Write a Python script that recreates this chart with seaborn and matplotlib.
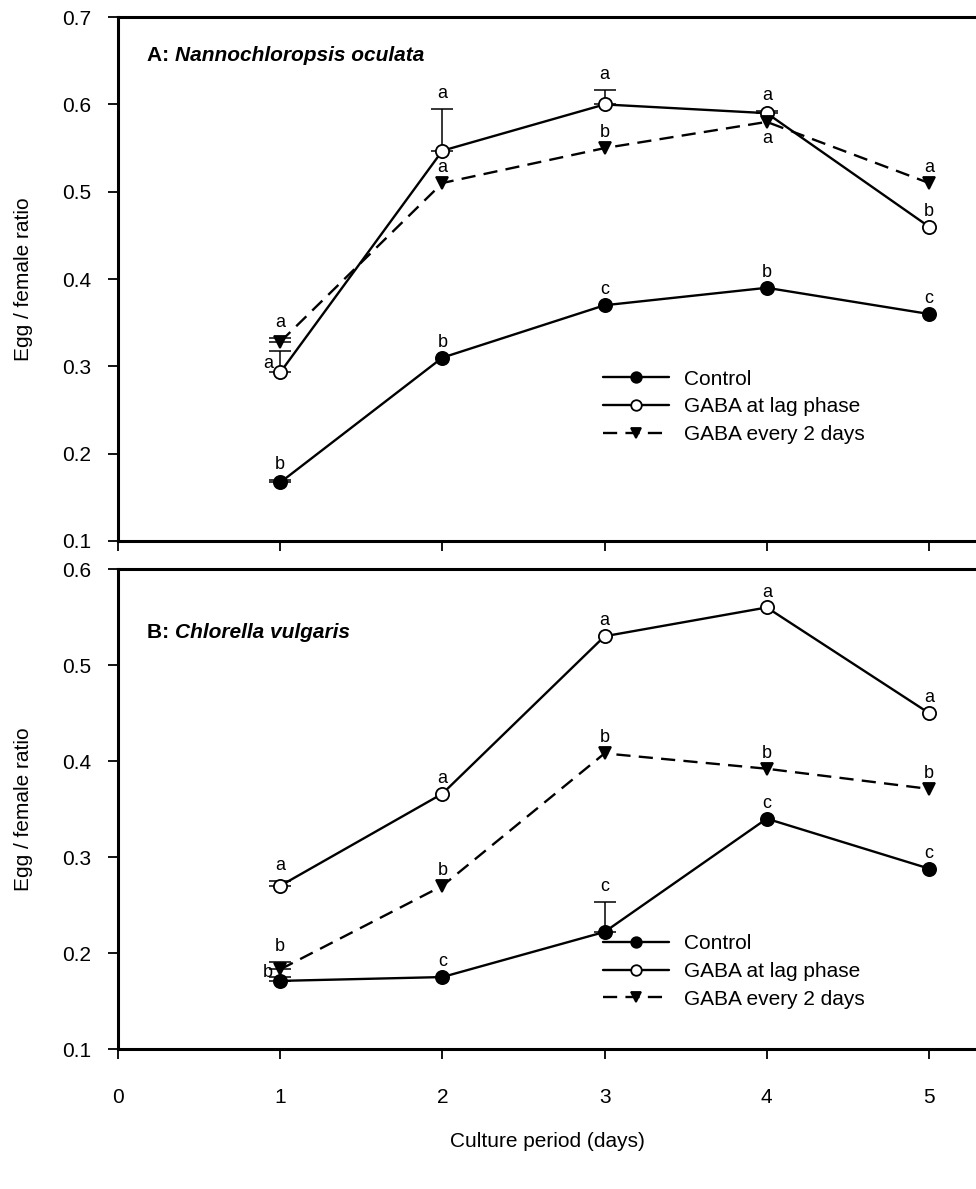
import matplotlib
matplotlib.use("Agg")
import matplotlib.pyplot as plt
import seaborn as sns
import pandas as pd
import numpy as np

# ---------------- data ----------------
days = [1, 2, 3, 4, 5]
series_names = ["Control", "GABA at lag phase", "GABA every 2 days"]

# Panel A: Nannochloropsis oculata
a_control = [0.167, 0.310, 0.370, 0.390, 0.360]
a_lag = [0.293, 0.547, 0.600, 0.590, 0.460]
a_every2 = [0.328, 0.510, 0.550, 0.580, 0.510]
a_control_err = [0.003, 0.0, 0.0, 0.0, 0.0]
a_lag_err = [0.025, 0.048, 0.017, 0.003, 0.0]
a_every2_err = [0.004, 0.0, 0.0, 0.0, 0.0]
a_control_letters = ["b", "b", "c", "b", "c"]
a_lag_letters = ["a", "a", "a", "a", "b"]
a_every2_letters = ["a", "a", "b", "a", "a"]

# Panel B: Chlorella vulgaris
b_control = [0.171, 0.175, 0.222, 0.340, 0.288]
b_lag = [0.270, 0.366, 0.530, 0.560, 0.450]
b_every2 = [0.183, 0.270, 0.408, 0.392, 0.371]
b_control_err = [0.004, 0.0, 0.031, 0.0, 0.0]
b_lag_err = [0.005, 0.0, 0.0, 0.0, 0.0]
b_every2_err = [0.008, 0.0, 0.0, 0.0, 0.0]
b_control_letters = ["b", "c", "c", "c", "c"]
b_lag_letters = ["a", "a", "a", "a", "a"]
b_every2_letters = ["b", "b", "b", "b", "b"]

x_ticks = [0, 1, 2, 3, 4, 5]
a_yticks = [0.1, 0.2, 0.3, 0.4, 0.5, 0.6, 0.7]
b_yticks = [0.1, 0.2, 0.3, 0.4, 0.5, 0.6]
xlabel = "Culture period (days)"
ylabel = "Egg / female ratio"

# ---------------- style ----------------
sns.set_theme(style="ticks")
plt.rcParams["font.family"] = ["Liberation Sans", "DejaVu Sans"]
plt.rcParams["text.color"] = "black"
plt.rcParams["axes.labelcolor"] = "black"
plt.rcParams["xtick.color"] = "black"
plt.rcParams["ytick.color"] = "black"
plt.rcParams["xtick.labelcolor"] = "black"
plt.rcParams["ytick.labelcolor"] = "black"

FS = 15
styles = {
    "Control": dict(marker="o", mfc="black", ls="-", ms=9.5),
    "GABA at lag phase": dict(marker="o", mfc="white", ls="-", ms=9.5),
    "GABA every 2 days": dict(marker="v", mfc="black", ls=(0, (6, 3.5)), ms=9),
}

fig = plt.figure(figsize=(9.76, 11.89), dpi=100)
axA = fig.add_axes([0.1209, 0.545, 0.8791, 0.4406])
axB = fig.add_axes([0.1209, 0.1177, 0.8791, 0.4037])


def draw(ax, vals, errs, letters, positions, yticks, ylim, show_xlabels):
    rows = []
    for name, v in zip(series_names, vals):
        for d, y in zip(days, v):
            rows.append(dict(day=d, ratio=y, treatment=name))
    df = pd.DataFrame(rows)
    for name, err, lets, pos in zip(series_names, errs, letters, positions):
        sub = df[df.treatment == name]
        st = styles[name]
        sns.lineplot(data=sub, x="day", y="ratio", ax=ax, color="black",
                     marker=st["marker"], markersize=st["ms"],
                     markerfacecolor=st["mfc"], markeredgecolor="black",
                     markeredgewidth=1.3, linewidth=1.7, linestyle=st["ls"],
                     label=name, zorder=3)
        yv = sub["ratio"].to_numpy()
        e = np.asarray(err)
        lower = np.zeros_like(e)
        mask = e > 0
        if mask.any():
            ax.errorbar(np.asarray(days)[mask], yv[mask], yerr=[lower[mask], e[mask]],
                        fmt="none", ecolor="black", elinewidth=1.1, capsize=8,
                        capthick=1.1, zorder=2)
        for d, y, ee, l, p in zip(days, yv, e, lets, pos):
            if p == "above":
                ax.annotate(l, (d, y + ee), xytext=(0, 5), textcoords="offset points",
                            ha="center", va="bottom", fontsize=13, color="black")
            elif p == "below":
                ax.annotate(l, (d, y), xytext=(0, -6), textcoords="offset points",
                            ha="center", va="top", fontsize=13, color="black")
            elif p == "left":
                ax.annotate(l, (d, y), xytext=(-5, 0), textcoords="offset points",
                            ha="right", va="bottom", fontsize=13, color="black")
    ax.set_xlim(0, 5.29)
    ax.set_ylim(*ylim)
    ax.set_xticks(x_ticks)
    ax.set_yticks(yticks)
    ax.set_yticklabels([f"{t:.1f}" for t in yticks], fontsize=FS)
    if show_xlabels:
        ax.set_xticklabels([str(t) for t in x_ticks], fontsize=FS)
        ax.set_xlabel(xlabel, fontsize=FS, labelpad=18)
    else:
        ax.set_xticklabels([])
        ax.set_xlabel("")
    ax.set_ylabel(ylabel, fontsize=FS, labelpad=21)
    ax.tick_params(direction="out", length=7, width=1.3, colors="black", pad=12)
    ax.tick_params(axis="x", pad=21)
    for s in ["left", "bottom", "top"]:
        ax.spines[s].set_visible(True)
        ax.spines[s].set_linewidth(2.2)
        ax.spines[s].set_color("black")
    ax.spines["right"].set_visible(False)
    return ax


draw(axA, [a_control, a_lag, a_every2],
     [a_control_err, a_lag_err, a_every2_err],
     [a_control_letters, a_lag_letters, a_every2_letters],
     [["above"] * 5,
      ["left", "above", "above", "above", "above"],
      ["above", "above", "above", "below", "above"]],
     a_yticks, (0.1, 0.7), False)
draw(axB, [b_control, b_lag, b_every2],
     [b_control_err, b_lag_err, b_every2_err],
     [b_control_letters, b_lag_letters, b_every2_letters],
     [["left", "above", "above", "above", "above"],
      ["above"] * 5,
      ["above"] * 5],
     b_yticks, (0.1, 0.6), True)

# panel titles (bold + bold italic)
for ax, letter, species, yy in [(axA, "A: ", "Nannochloropsis oculata", 0.927),
                                (axB, "B: ", "Chlorella vulgaris", 0.867)]:
    t1 = ax.text(0.0335, yy, letter, transform=ax.transAxes, fontsize=FS,
                 fontweight="bold", ha="left", va="center", color="black")
    fig.canvas.draw()
    bb = t1.get_window_extent()
    inv = ax.transAxes.inverted()
    x1 = inv.transform((bb.x1, bb.y0))[0]
    ax.text(x1, yy, species, transform=ax.transAxes, fontsize=FS,
            fontweight="bold", style="italic", ha="left", va="center", color="black")

for ax, loc in [(axA, (0.565, 0.327)), (axB, (0.565, 0.2396))]:
    leg = ax.legend(loc="upper left", bbox_to_anchor=loc, frameon=False, fontsize=FS,
                    handlelength=3.2, numpoints=1, labelspacing=0.42, handletextpad=0.7,
                    borderaxespad=0.0, borderpad=0.0, markerscale=0.8)
    for t in leg.get_texts():
        t.set_color("black")

fig.savefig("out.png", dpi=100)
